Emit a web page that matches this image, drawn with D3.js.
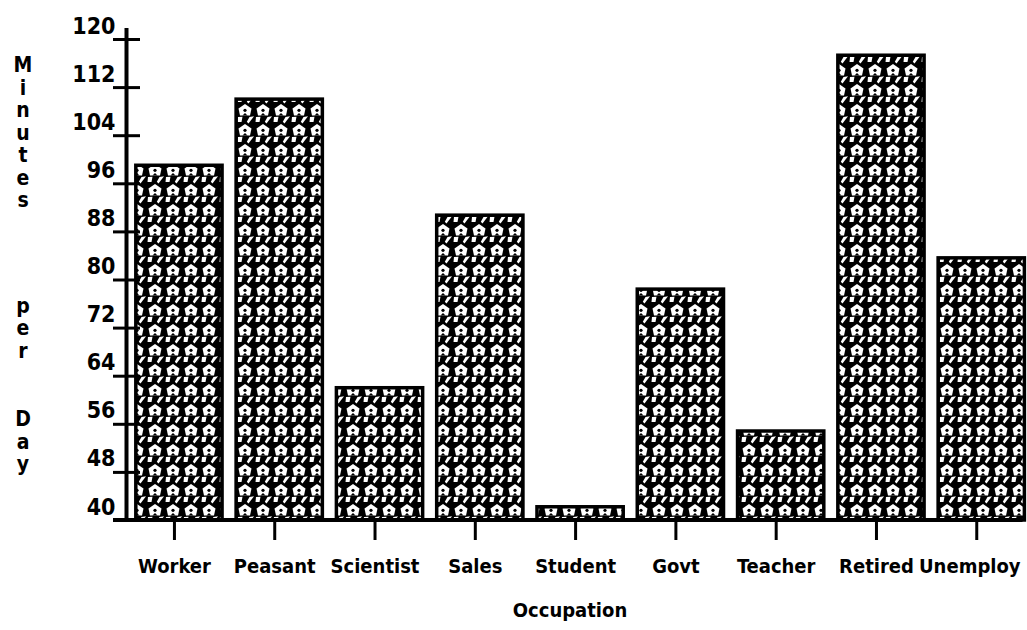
<!DOCTYPE html>
<html>
<head>
<meta charset="utf-8">
<script src="https://cdn.jsdelivr.net/npm/d3@7"></script>
<style>
  html, body { margin: 0; padding: 0; background: #fff; }
  svg { display: block; }
  text { font-family: "DejaVu Sans Condensed", "DejaVu Sans", sans-serif; font-stretch: condensed; font-weight: bold; fill: #000; }
</style>
</head>
<body>
<script>
// ---- data ----
const categories = ["Worker", "Peasant", "Scientist", "Sales", "Student", "Govt", "Teacher", "Retired", "Unemploy"];
const minutes = [99, 110, 62, 90.7, 42.2, 78.4, 54.8, 117.3, 83.6];
const yTicks = [40, 48, 56, 64, 72, 80, 88, 96, 104, 112, 120];
const yTitle = "Minutes per Day";
const xTitle = "Occupation";

// ---- layout ----
const W = 1027, H = 630;
const svg = d3.select("body").append("svg").attr("width", W).attr("height", H);

const x = d3.scaleBand().domain(categories).range([128.8, 1031.4]).paddingInner(0.14).paddingOuter(0.07);
const y = d3.scaleLinear().domain([40, 120]).range([520, 39]);
const tickShift = -4.5;

// pattern
const defs = svg.append("defs");
const pat = defs.append("pattern").attr("id", "stars").attr("patternUnits", "userSpaceOnUse")
  .attr("width", 18).attr("height", 20).attr("x", 2).attr("y", 4);
pat.append("rect").attr("width", 18).attr("height", 20).attr("fill", "#000");
// house/star shape
pat.append("path").attr("d", "M9,0 L15.5,4.5 L14,11.5 L4,11.5 L2.5,4.5 Z").attr("fill", "#fff");
pat.append("circle").attr("cx", 9).attr("cy", 6.3).attr("r", 1.6).attr("fill", "#000");
pat.append("path").attr("d", "M6.5,11.5 L9,9 L11.5,11.5 Z").attr("fill", "#000");
// arrow wedge and dot
pat.append("path").attr("d", "M13.5,13 L18,12.3 L12.5,19.5 L10.8,17.8 Z").attr("fill", "#fff");
pat.append("path").attr("d", "M2,13 L6.5,12.8 L5.5,18 L1.5,18 Z").attr("fill", "#fff");

// bars
svg.append("g").selectAll("rect").data(categories).join("rect")
  .attr("x", d => x(d))
  .attr("width", x.bandwidth())
  .attr("y", (d, i) => y(minutes[i]))
  .attr("height", (d, i) => y(40) - y(minutes[i]))
  .attr("fill", "url(#stars)")
  .attr("stroke", "#000")
  .attr("stroke-width", 3.5);

// y axis
const yAxis = d3.axisLeft(y).tickValues(yTicks).tickSize(0).tickPadding(0);
const gy = svg.append("g").attr("transform", "translate(126.5,0)").call(yAxis);
gy.select(".domain").remove();
gy.selectAll(".tick line").remove();
gy.selectAll(".tick").append("line").attr("x1", -13.5).attr("x2", 13.5)
  .attr("stroke", "#000").attr("stroke-width", 3);
gy.selectAll(".tick text")
  .attr("x", -11).attr("dy", "-6").attr("text-anchor", "end")
  .style("font-size", "23px");
gy.append("line").attr("x1", 0).attr("x2", 0).attr("y1", 28).attr("y2", y(40))
  .attr("stroke", "#000").attr("stroke-width", 4);

// x axis
const xAxis = d3.axisBottom(x).tickSize(0).tickPadding(0);
const gx = svg.append("g").attr("transform", `translate(${tickShift},${y(40)})`).call(xAxis);
gx.select(".domain").remove();
gx.selectAll(".tick line").remove();
gx.selectAll(".tick").append("line").attr("y1", 0).attr("y2", 20)
  .attr("stroke", "#000").attr("stroke-width", 3);
gx.selectAll(".tick text").attr("y", 53).attr("dy", 0)
  .style("font-size", "20px");
gx.selectAll(".tick text").filter(d => d === "Unemploy").attr("x", -7);
svg.append("line").attr("x1", 113).attr("x2", 1022.5).attr("y1", y(40)).attr("y2", y(40))
  .attr("stroke", "#000").attr("stroke-width", 4);

// x title
svg.append("text").attr("x", 570).attr("y", 617).attr("text-anchor", "middle")
  .style("font-size", "20px").text(xTitle);

// y title, stacked letters
const letters = yTitle.split("");
let yy = 72, pos = [];
letters.forEach((c, i) => {
  pos.push(yy);
  yy += (c === " ") ? (pos.length < 9 ? 83 : 46) : 22.5;
});
svg.append("g").selectAll("text").data(letters.map((c, i) => ({c, y: pos[i]})).filter(d => d.c !== " "))
  .join("text").attr("x", 23).attr("y", d => d.y).attr("text-anchor", "middle")
  .style("font-size", "21px").text(d => d.c);
</script>
</body>
</html>
